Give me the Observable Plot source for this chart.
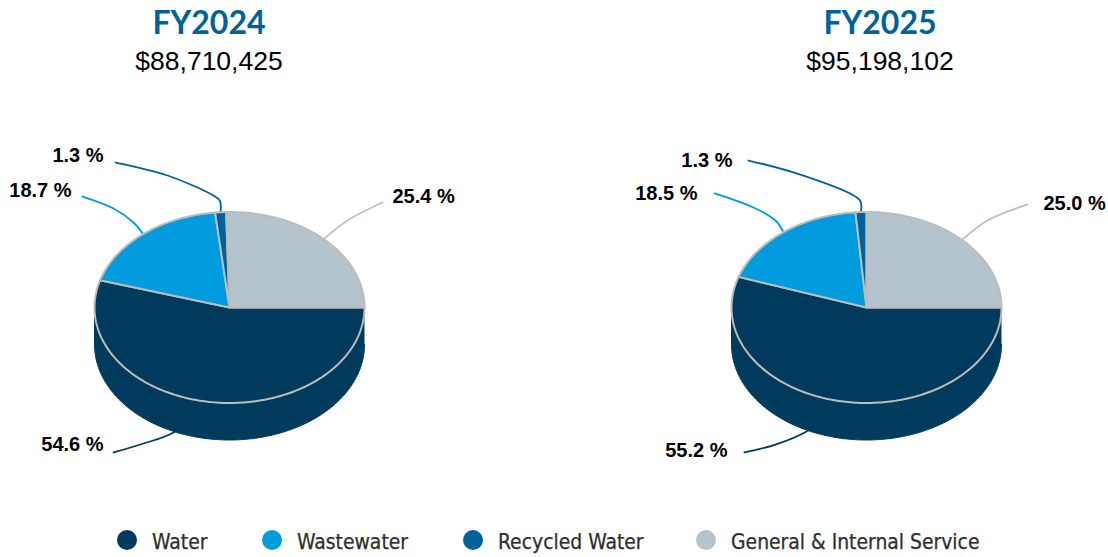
<!DOCTYPE html>
<html>
<head>
<meta charset="utf-8">
<script src="https://cdn.jsdelivr.net/npm/d3@7"></script>
<script src="https://cdn.jsdelivr.net/npm/@observablehq/plot@0.6"></script>
<style>
  html, body { margin: 0; padding: 0; background: #fff; }
  #page { position: relative; width: 1108px; height: 557px; overflow: hidden; }
  .panel { position: absolute; top: 0; width: 554px; }
  .panel svg { position: absolute; top: 90px; left: 0; overflow: visible; background: none; }
  .head { position: absolute; top: 0; transform: translateX(-50%); text-align: center; white-space: nowrap; }
  .year { font: 700 32px/32px Lato, sans-serif; color: #00629b; margin-top: 6px; }
  .total { font: 400 26.5px/30px "Liberation Sans", sans-serif; color: #000; margin-top: 8px; }
  #legend { position: absolute; top: 524px; left: 0; width: 1108px; height: 33px; }
  .key { position: absolute; top: 1px; display: flex; align-items: center; height: 33px;
         font: 400 20.9px "DejaVu Sans Condensed", "DejaVu Sans", sans-serif; font-stretch: condensed;
         color: #2e2e2e; -webkit-text-stroke: 0.25px #2e2e2e; white-space: nowrap; }
  .key i { position: absolute; left: -35px; top: 5px; width: 20px; height: 20px; border-radius: 50%; }
</style>
</head>
<body>
<div id="page"></div>
<script>
// Budget split by service, one tilted pie per fiscal year.
const categories = ["Water", "Wastewater", "Recycled Water", "General & Internal Service"];
const colors = ["#003a5d", "#009cde", "#00629b", "#b5c3cc"];
const years = ["FY2024", "FY2025"];
const totals = ["$88,710,425", "$95,198,102"];
const sharesFY2024 = [54.6, 18.7, 1.3, 25.4];
const sharesFY2025 = [55.2, 18.5, 1.3, 25.0];
const legendLefts = [152, 297, 498, 731];

// Leader routes and label anchors in pie radii, keyed by category order.
const routesFY2024 = [
  [[-0.415, 1.309], [-0.637, 1.424], [-0.859, 1.518]],
  [[-0.711, -0.89], [-0.859, -1.037], [-1.089, -1.162]],
  [[-0.072, -1.12], [-0.119, -1.173], [-0.459, -1.382], [-0.844, -1.518]],
  [[0.874, -0.911], [1.133, -1.099]]
];
const routesFY2025 = [
  [[-0.444, 1.298], [-0.674, 1.435], [-0.904, 1.518]],
  [[-0.674, -0.911], [-0.837, -1.047], [-1.126, -1.194]],
  [[-0.044, -1.11], [-0.096, -1.173], [-0.541, -1.414], [-0.874, -1.539]],
  [[0.896, -0.911], [1.193, -1.079]]
];
const anchorsFY2024 = [[-0.933, 1.435], [-1.170, -1.225], [-0.933, -1.592], [1.207, -1.162]];
const anchorsFY2025 = [[-1.030, 1.497], [-1.252, -1.194], [-0.993, -1.54], [1.311, -1.089]];

const panelWidth = 554, plotHeight = 420;
const radiusX = 135, radiusY = 95.5, wallDepth = 37 / radiusY;

// Angles run clockwise from twelve o'clock; the first slice starts at three o'clock.
const rim = deg => [Math.sin(deg * Math.PI / 180), -Math.cos(deg * Math.PI / 180)];
const arc = (from, to) => {
  const n = Math.max(2, Math.ceil(Math.abs(to - from)));
  return d3.range(n + 1).map(i => rim(from + (to - from) * i / n));
};

function slices(shares) {
  let start = 90;
  return shares.map((share, i) => {
    const end = start + share * 3.6;
    const s = {category: categories[i], share, start, end, mid: (start + end) / 2};
    start = end;
    return s;
  });
}

function pie(shares, routes, anchors, centerX) {
  const parts = slices(shares);
  const face = parts.flatMap(s =>
    [[0, 0], ...arc(s.start, s.end), [0, 0]].map(([x, y]) => ({category: s.category, x, y})));
  // Only the near half of the drum shows a side wall.
  const wall = parts.filter(s => s.start < 270 && s.end > 90).flatMap(s => {
    const top = arc(Math.max(s.start, 90), Math.min(s.end, 270));
    const bottom = top.map(([x, y]) => [x, y + wallDepth]).reverse();
    return [...top, ...bottom].map(([x, y]) => ({category: s.category, x, y}));
  });
  const leaders = parts.flatMap((s, i) =>
    [rim(s.mid), ...routes[i]].map(([x, y]) => ({category: s.category, x, y})));
  const labels = parts.map((s, i) => ({
    category: s.category,
    x: anchors[i][0],
    y: anchors[i][1],
    text: d3.format(".1f")(s.share) + " %",
    side: anchors[i][0] > 0 ? "start" : "end"
  }));
  const centerY = 307 - 90;
  return Plot.plot({
    width: panelWidth,
    height: plotHeight,
    margin: 0,
    x: {axis: null, domain: [-centerX / radiusX, (panelWidth - centerX) / radiusX]},
    y: {axis: null, domain: [(plotHeight - centerY) / radiusY, -centerY / radiusY]},
    color: {domain: categories, range: colors},
    marks: [
      Plot.line(leaders, {x: "x", y: "y", z: "category", stroke: "category", strokeWidth: 1.8, curve: "catmull-rom"}),
      Plot.line(wall, {x: "x", y: "y", z: "category", fill: "category", stroke: "category", strokeWidth: 1, curve: "linear"}),
      Plot.line(face, {x: "x", y: "y", z: "category", fill: "category", stroke: "#bcbcbc", strokeWidth: 2, strokeLinejoin: "round", curve: "linear"}),
      ...["start", "end"].map(side => Plot.text(labels.filter(d => d.side === side), {
        x: "x", y: "y", text: "text", textAnchor: side, fill: "#000",
        fontFamily: "Liberation Sans", fontWeight: 700, fontSize: 20
      }))
    ]
  });
}

const page = d3.select("#page");
const series = [sharesFY2024, sharesFY2025];
const routes = [routesFY2024, routesFY2025];
const anchors = [anchorsFY2024, anchorsFY2025];
const centers = [229, 312];
const headCenters = [209, 880];

years.forEach((year, i) => {
  const panel = page.append("div").attr("class", "panel").style("left", `${i * panelWidth}px`);
  panel.node().append(pie(series[i], routes[i], anchors[i], centers[i]));
  const head = page.append("div").attr("class", "head").style("left", `${headCenters[i]}px`);
  head.append("div").attr("class", "year").text(year);
  head.append("div").attr("class", "total").text(totals[i]);
});

const legend = page.append("div").attr("id", "legend");
categories.forEach((name, i) => {
  const key = legend.append("div").attr("class", "key").style("left", `${legendLefts[i]}px`);
  key.append("i").style("background", colors[i]);
  key.append("span").text(name);
});
</script>
</body>
</html>
